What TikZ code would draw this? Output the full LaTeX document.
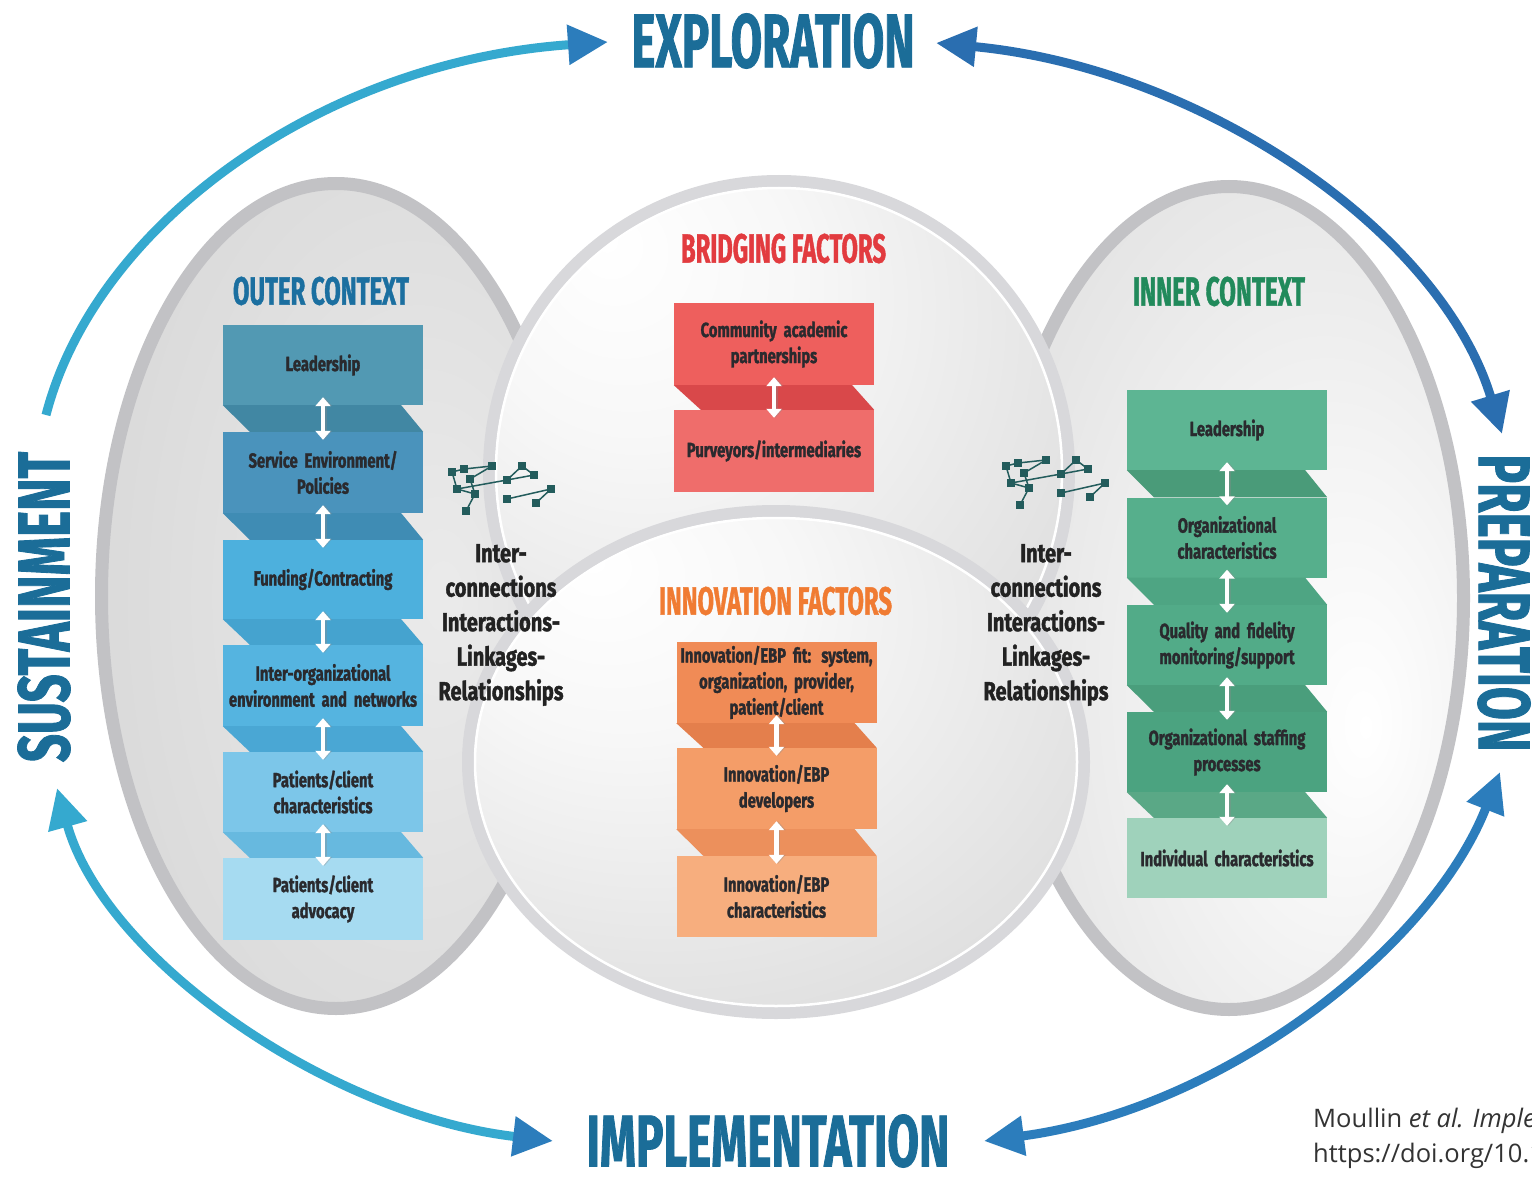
\documentclass[tikz,border=0pt]{standalone}
\usepackage{fontspec}
\usepackage{graphicx}
\usetikzlibrary{arrows.meta,fadings}
\newfontfamily\condf[FakeStretch=0.72,FakeBold=1.4]{Fira Sans}
\newfontfamily\intf[FakeStretch=0.77,FakeBold=1.4]{Fira Sans}
\newfontfamily\titlef[FakeStretch=0.58,FakeBold=1]{Fira Sans}
\newfontfamily\citef{Open Sans}

\definecolor{phaseblue}{HTML}{1B6D98}
\definecolor{outerc}{HTML}{1B6FA0}
\definecolor{bridgec}{HTML}{E23B3F}
\definecolor{innovc}{HTML}{F07B32}
\definecolor{innerc}{HTML}{218A5B}
\definecolor{boxtxt}{HTML}{2A2A2E}
\definecolor{intertxt}{HTML}{222222}
\definecolor{netc}{HTML}{235C5C}
\definecolor{citc}{HTML}{333333}
\definecolor{ringside}{HTML}{C2C2C5}
\definecolor{ringmid}{HTML}{D8D8DB}
\definecolor{arrA}{HTML}{35A9CF}
\definecolor{arrB}{HTML}{2C7DBC}
\definecolor{arrC}{HTML}{2A6EB0}
\definecolor{o1c}{HTML}{5299B3}
\definecolor{o2c}{HTML}{4A93BC}
\definecolor{o3c}{HTML}{4DB0DD}
\definecolor{o4c}{HTML}{55B4E0}
\definecolor{o5c}{HTML}{7CC6E9}
\definecolor{o6c}{HTML}{A6DBF1}
\definecolor{ob1}{HTML}{4187A3}
\definecolor{ob2}{HTML}{3F8CB4}
\definecolor{ob3}{HTML}{45A3CF}
\definecolor{ob4}{HTML}{4AA7D4}
\definecolor{ob5}{HTML}{67B9DF}
\definecolor{i1c}{HTML}{5DB593}
\definecolor{i2c}{HTML}{56AF8C}
\definecolor{i3c}{HTML}{52AB88}
\definecolor{i4c}{HTML}{4BA380}
\definecolor{i5c}{HTML}{9FD2BB}
\definecolor{ib1}{HTML}{4A9B79}
\definecolor{ib2}{HTML}{4EA583}
\definecolor{ib3}{HTML}{4A9E7C}
\definecolor{ib4}{HTML}{5AA886}
\definecolor{r1c}{HTML}{EE5F5D}
\definecolor{r2c}{HTML}{EF6D6B}
\definecolor{rb1}{HTML}{D9484A}
\definecolor{n1c}{HTML}{F08B56}
\definecolor{n2c}{HTML}{F49D68}
\definecolor{n3c}{HTML}{F7AE7E}
\definecolor{nb1}{HTML}{E47F4C}
\definecolor{nb2}{HTML}{EC905C}

\tikzfading[name=hfade, left color=transparent!100, middle color=transparent!0, right color=transparent!100]

\pgfdeclareradialshading{midsh}{\pgfpoint{-15bp}{20bp}}{color(0bp)=(white); color(14bp)=(black!3); color(45bp)=(black!15); color(80bp)=(black!23)}
\pgfdeclareradialshading{sideshL}{\pgfpoint{12bp}{0bp}}{color(0bp)=(black!8); color(40bp)=(black!16); color(70bp)=(black!21)}
\pgfdeclareradialshading{sideshR}{\pgfpoint{15bp}{-8bp}}{color(0bp)=(white); color(14bp)=(black!4); color(48bp)=(black!15); color(70bp)=(black!20)}

\newcommand\shadowbar[3]{\fill[black!40, path fading=hfade] (#1,#3-1.8) rectangle (#2,#3+1.8);}
\newcommand\litebar[4]{\fill[white, opacity=.6, path fading=hfade] (#1,#3) rectangle (#2,#4);}

\newcommand\netIcon[3]{%
\begin{scope}[shift={(#2,#3)}]
 \foreach \n/\px/\py in {a/6/11,b/18/8,c/46/5,d/24/18,e/11/28,f/29/33,g/20/50,h/76/5,i/88/14,j/61/19,k/105/28,l/61/38,m/90/42}
   \node[netsq] (#1\n) at (\px,\py) {};
 \foreach \u/\v in {a/b,b/c,c/d,a/e,d/f,e/f,f/g,e/j,j/h,h/i,j/i,l/k,k/m}
   \draw[netln] (#1\u.center) -- (#1\v.center);
\end{scope}}

\begin{document}
\begin{tikzpicture}[x=1pt,y=-1pt,
  boxst/.style={inner sep=0pt, minimum width=200pt, text width=199pt, align=center, text=boxtxt,
     font=\condf\bfseries\fontsize{20.5}{26}\selectfont},
  darr/.style={draw=white, line width=4.5pt, shorten <=-8pt, shorten >=-8pt,
     {Triangle[length=9pt,width=15pt]}-{Triangle[length=9pt,width=15pt]}},
  darrsh/.style={draw=black!45, opacity=.35, line width=4.5pt, shorten <=-8pt, shorten >=-8pt,
     {Triangle[length=9pt,width=15pt]}-{Triangle[length=9pt,width=15pt]}},
  headst/.style={inner sep=0pt},
  intst/.style={inner sep=0pt, align=center, text=intertxt, font=\intf\bfseries\fontsize{26}{34.5}\selectfont},
  netsq/.style={fill=netc, minimum size=8.5pt, inner sep=0pt},
  netln/.style={draw=netc, line width=1.5pt},
  bigarr/.style={line width=9pt}
]
\useasboundingbox (0,0) rectangle (1532,1177);
\fill[white] (0,0) rectangle (1532,1177);
\clip (0,0) rectangle (1532,1177);

% side ovals
\path[shading=sideshL] (336,596) ellipse [x radius=230pt, y radius=408pt];
\draw[ringside, line width=13pt] (336,596) ellipse [x radius=234.5pt, y radius=412.5pt];
\path[shading=sideshR] (1229,598) ellipse [x radius=230pt, y radius=407pt];
\draw[ringside, line width=13pt] (1229,598) ellipse [x radius=234.5pt, y radius=411.5pt];

% middle ellipses
\path[shading=midsh] (779,471) ellipse [x radius=290pt, y radius=290pt];
\draw[ringmid, line width=12pt] (779,471) ellipse [x radius=290pt, y radius=290pt];
\draw[white, line width=2.5pt] (779,471) ellipse [x radius=283pt, y radius=283pt];
\path[shading=midsh] (776,762) ellipse [x radius=308pt, y radius=251pt];
\draw[ringmid, line width=12pt] (776,762) ellipse [x radius=308pt, y radius=251pt];
\draw[white, line width=2.5pt] (776,762) ellipse [x radius=301pt, y radius=244pt];

% heading bars
\litebar{185}{460}{266}{312}
\shadowbar{185}{455}{264}
\shadowbar{175}{470}{314}
\litebar{625}{940}{228}{271}
\shadowbar{625}{940}{226}
\shadowbar{625}{940}{273}
\litebar{600}{955}{580}{624}
\shadowbar{600}{955}{578}
\shadowbar{600}{955}{626}
\litebar{1075}{1370}{266}{314}
\shadowbar{1075}{1370}{264}
\shadowbar{1075}{1370}{316}

% headings
\node[headst, text=outerc] (hOuter) at (321,291) {\resizebox{176pt}{28pt}{\titlef\bfseries OUTER CONTEXT}};
\node[headst, text=bridgec] (hBridge) at (783.5,248.5) {\resizebox{205pt}{29pt}{\titlef\bfseries BRIDGING FACTORS}};
\node[headst, text=innovc] (hInnov) at (775.5,601) {\resizebox{233pt}{28pt}{\titlef\bfseries INNOVATION FACTORS}};
\node[headst, text=innerc] (hInner) at (1219,291.5) {\resizebox{172pt}{29pt}{\titlef\bfseries INNER CONTEXT}};

% outer context column
\node[boxst, fill=o1c, minimum height=80pt] (o1) at (323,365) {Leadership};
\node[boxst, fill=o2c, minimum height=81pt] (o2) at (323,472.5) {Service Environment/\\Policies};
\node[boxst, fill=o3c, minimum height=79pt] (o3) at (323,579.5) {Funding/Contracting};
\node[boxst, fill=o4c, minimum height=81pt] (o4) at (323,685.5) {Inter-organizational\\environment and networks};
\node[boxst, fill=o5c, minimum height=80pt] (o5) at (323,792) {Patients/client\\characteristics};
\node[boxst, fill=o6c, minimum height=82pt] (o6) at (323,899) {Patients/client\\advocacy};
\foreach \a/\b/\c in {o1/o2/ob1,o2/o3/ob2,o3/o4/ob3,o4/o5/ob4,o5/o6/ob5}{
  \fill[\c] (\a.south west) -- ([xshift=-22pt]\a.south east) -- (\b.north east) -- ([xshift=27pt]\b.north west) -- cycle;
  \draw[darrsh] ([xshift=1.5pt]\a.south) -- ([xshift=1.5pt]\b.north);
  \draw[darr] (\a.south) -- (\b.north);
}

% inner context column
\node[boxst, fill=i1c, minimum height=80pt] (i1) at (1227,430) {Leadership};
\node[boxst, fill=i2c, minimum height=80pt] (i2) at (1227,537.5) {Organizational\\characteristics};
\node[boxst, fill=i3c, minimum height=80pt] (i3) at (1227,645) {Quality and fidelity\\monitoring/support};
\node[boxst, fill=i4c, minimum height=80pt] (i4) at (1227,752) {Organizational staffing\\processes};
\node[boxst, fill=i5c, minimum height=80pt] (i5) at (1227,858) {Individual characteristics};
\foreach \a/\b/\c in {i1/i2/ib1,i2/i3/ib2,i3/i4/ib3,i4/i5/ib4}{
  \fill[\c] (\a.south west) -- ([xshift=-22pt]\a.south east) -- (\b.north east) -- ([xshift=27pt]\b.north west) -- cycle;
  \draw[darrsh] ([xshift=1.5pt]\a.south) -- ([xshift=1.5pt]\b.north);
  \draw[darr] (\a.south) -- (\b.north);
}

% bridging factors
\node[boxst, fill=r1c, minimum height=82pt] (r1) at (774,344) {Community academic\\partnerships};
\node[boxst, fill=r2c, minimum height=82pt] (r2) at (774,451) {Purveyors/intermediaries};
\fill[rb1] (r1.south west) -- ([xshift=-22pt]r1.south east) -- (r2.north east) -- ([xshift=27pt]r2.north west) -- cycle;
\draw[darrsh] ([xshift=1.5pt]r1.south) -- ([xshift=1.5pt]r2.north);
\draw[darr] (r1.south) -- (r2.north);

% innovation factors
\node[boxst, fill=n1c, minimum height=81pt] (n1) at (776.5,682.5) {Innovation/EBP fit: system,\\organization, provider,\\patient/client};
\node[boxst, fill=n2c, minimum height=81pt] (n2) at (776.5,788.5) {Innovation/EBP\\developers};
\node[boxst, fill=n3c, minimum height=81pt] (n3) at (776.5,896.5) {Innovation/EBP\\characteristics};
\foreach \a/\b/\c in {n1/n2/nb1,n2/n3/nb2}{
  \fill[\c] (\a.south west) -- ([xshift=-22pt]\a.south east) -- (\b.north east) -- ([xshift=27pt]\b.north west) -- cycle;
  \draw[darrsh] ([xshift=1.5pt]\a.south) -- ([xshift=1.5pt]\b.north);
  \draw[darr] (\a.south) -- (\b.north);
}

% network icons
\netIcon{L}{446}{461}
\netIcon{R}{1000}{455}

% interconnection texts
\node[intst] (intL) at (501,625) {Inter-\\connections\\Interactions-\\Linkages-\\Relationships};
\node[intst] (intR) at (1046,625) {Inter-\\connections\\Interactions-\\Linkages-\\Relationships};

% phase labels
\node[headst, text=phaseblue] (expl) at (773,41) {\resizebox{283pt}{54pt}{\titlef\bfseries EXPLORATION}};
\node[headst, text=phaseblue] (impl) at (768,1141) {\resizebox{363pt}{52pt}{\titlef\bfseries IMPLEMENTATION}};
\node[headst, text=phaseblue, rotate=90] (sust) at (44,607) {\resizebox{310pt}{52pt}{\titlef\bfseries SUSTAINMENT}};
\node[headst, text=phaseblue, rotate=-90] (prep) at (1504,603) {\resizebox{297pt}{52pt}{\titlef\bfseries PREPARATION}};

% big cycle arrows
\coordinate (A1s) at (46,415);
\coordinate (A1e) at (608,42);
\coordinate (A2s) at (936,43);
\coordinate (A2e) at (1502,434);
\coordinate (A3s) at (1500,772);
\coordinate (A3e) at (984,1141);
\coordinate (A4s) at (57,788);
\coordinate (A4e) at (553,1141);
\draw[bigarr, arrA, -{Triangle[length=40pt,width=38pt,color=arrB]}] (A1s) .. controls (95,225) and (320,62) .. (A1e);
\draw[bigarr, arrC, {Triangle[length=40pt,width=38pt]}-{Triangle[length=40pt,width=38pt]}] (A2s) .. controls (1200,68) and (1440,230) .. (A2e);
\draw[bigarr, arrB, {Triangle[length=40pt,width=38pt]}-{Triangle[length=40pt,width=38pt]}] (A3s) .. controls (1430,950) and (1220,1110) .. (A3e);
\draw[bigarr, arrA, {Triangle[length=40pt,width=38pt]}-{Triangle[length=40pt,width=38pt,color=arrB]}] (A4s) .. controls (105,960) and (330,1115) .. (A4e);

% citation
\node[anchor=base west, inner sep=0pt, text=citc, font=\citef\fontsize{25.5}{29}\selectfont] (cit1) at (1313,1127) {Moullin \textit{et al. Imple}};
\node[anchor=base west, inner sep=0pt, text=citc, font=\citef\fontsize{25.5}{29}\selectfont] (cit2) at (1313,1162) {https://doi.org/10.1};
\end{tikzpicture}
\end{document}
